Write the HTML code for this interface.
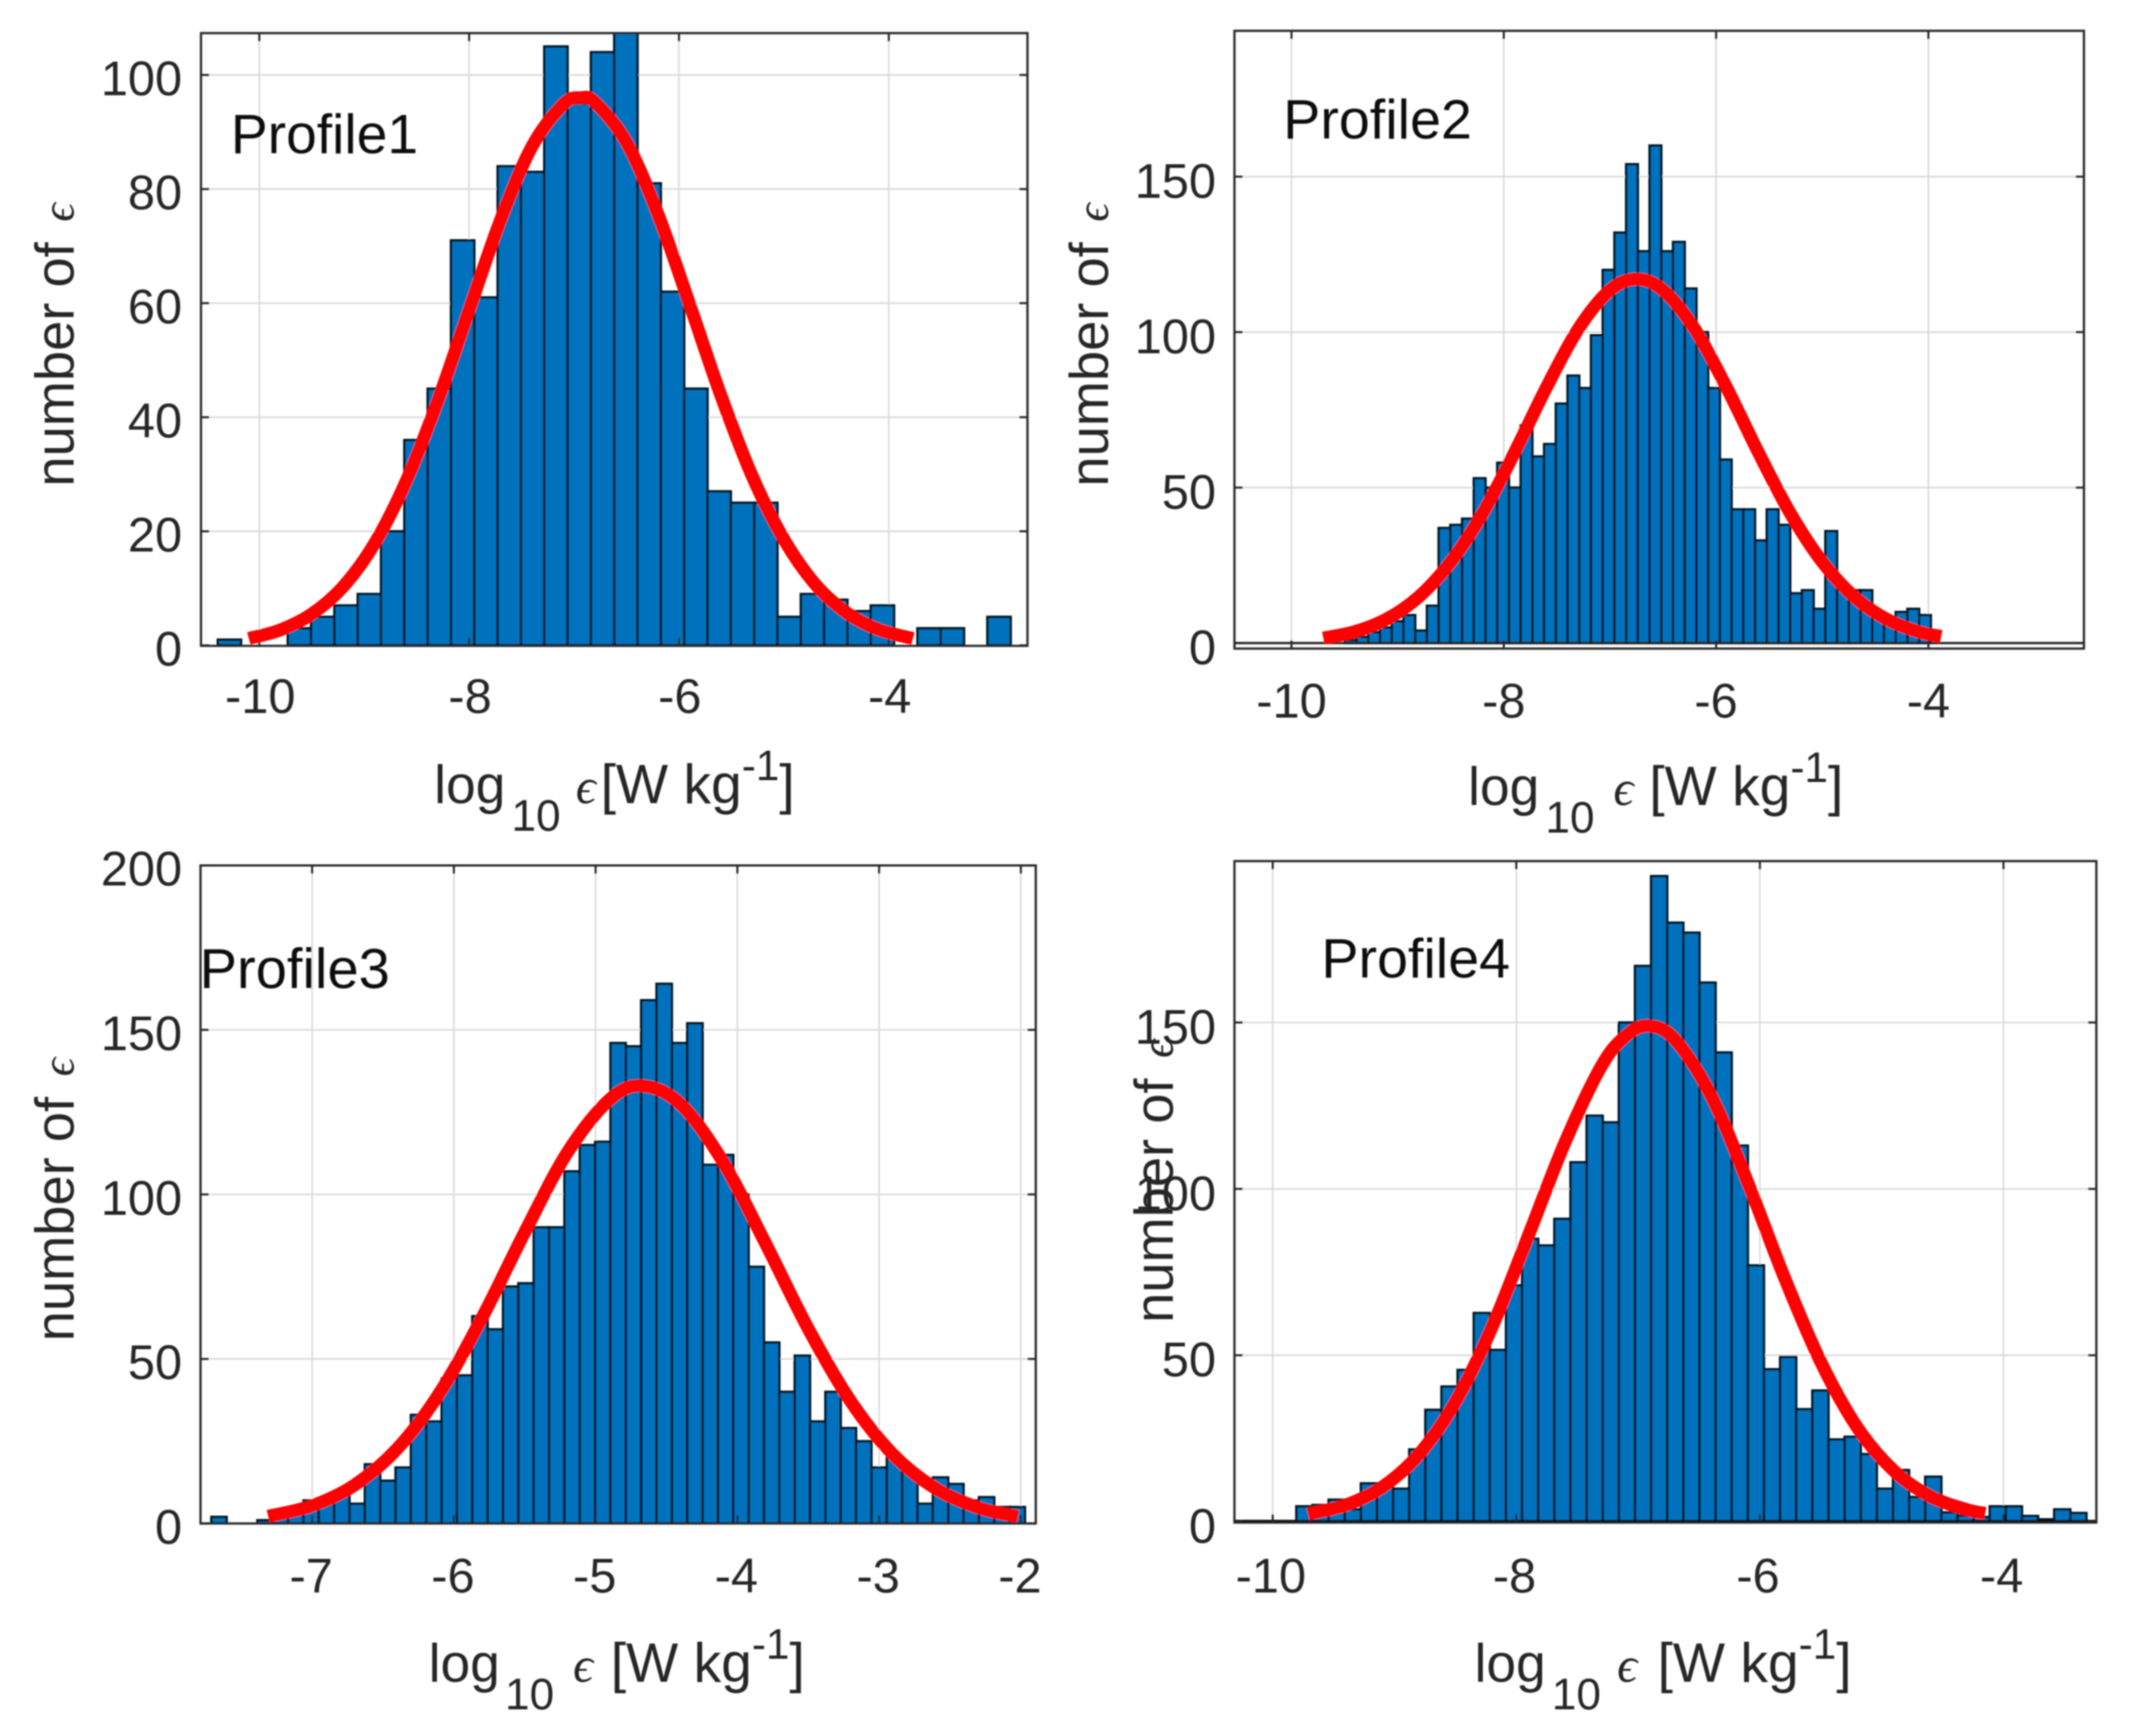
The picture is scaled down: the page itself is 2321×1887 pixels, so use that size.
<!DOCTYPE html>
<html lang="en">
<head>
<meta charset="utf-8">
<title>Histograms of log10 epsilon for four profiles</title>
<style>
html,body{margin:0;padding:0;background:#fff;}
svg{display:block;font-family:"Liberation Sans",Arial,sans-serif;}
.eps{font-family:"Liberation Serif","DejaVu Serif",serif;font-style:italic;}
</style>
</head>
<body>
<svg id="figure" xmlns="http://www.w3.org/2000/svg" width="2321" height="1887" viewBox="0 0 2321 1887">
  <defs>
    <filter id="soft" x="-2%" y="-2%" width="104%" height="104%"><feGaussianBlur stdDeviation="0.8"/></filter>
  </defs>
  <rect x="0" y="0" width="2321" height="1887" fill="#ffffff"/>
  <g id="plots" filter="url(#soft)"></g>
  <g id="titles" filter="url(#soft)" fill="#262626">
    <text x="251" y="166.5" font-size="60" fill="#111">Profile1</text>
    <text x="1395" y="150.5" font-size="60.5" fill="#111">Profile2</text>
    <text x="217" y="1074" font-size="61" fill="#111">Profile3</text>
    <text x="1436.5" y="1062.5" font-size="60.5" fill="#111">Profile4</text>

    <text transform="translate(80,529) rotate(-90)" font-size="59">number of <tspan class="eps" dx="6" font-size="50">ϵ</tspan></text>
    <text transform="translate(1204.5,529) rotate(-90)" font-size="59">number of <tspan class="eps" dx="6" font-size="50">ϵ</tspan></text>
    <text transform="translate(80,1458) rotate(-90)" font-size="59">number of <tspan class="eps" dx="6" font-size="50">ϵ</tspan></text>
    <text transform="translate(1275,1438) rotate(-90)" font-size="59">number of <tspan class="eps" dx="6" font-size="50">ϵ</tspan></text>

    <text font-size="58"><tspan x="472" y="873">log</tspan><tspan x="556" y="903" font-size="48">10</tspan><tspan class="eps" x="626" y="873" font-size="54">ϵ</tspan><tspan x="653" y="873" font-size="60">[W kg</tspan><tspan y="848" font-size="46">-1</tspan><tspan y="873" font-size="60">]</tspan></text>
    <text font-size="58"><tspan x="1596" y="875">log</tspan><tspan x="1680" y="905" font-size="48">10</tspan><tspan class="eps" x="1754" y="875" font-size="54">ϵ</tspan><tspan x="1793" y="875" font-size="60">[W kg</tspan><tspan y="850" font-size="46">-1</tspan><tspan y="875" font-size="60">]</tspan></text>
    <text font-size="58"><tspan x="466" y="1828">log</tspan><tspan x="549" y="1858" font-size="48">10</tspan><tspan class="eps" x="623" y="1828" font-size="54">ϵ</tspan><tspan x="664" y="1828" font-size="60">[W kg</tspan><tspan y="1803" font-size="46">-1</tspan><tspan y="1828" font-size="60">]</tspan></text>
    <text font-size="58"><tspan x="1603" y="1828">log</tspan><tspan x="1687" y="1858" font-size="48">10</tspan><tspan class="eps" x="1758" y="1828" font-size="54">ϵ</tspan><tspan x="1802" y="1828" font-size="60">[W kg</tspan><tspan y="1803" font-size="46">-1</tspan><tspan y="1828" font-size="60">]</tspan></text>
  </g>
</svg>
<script>
// ---- Profile 1 data ----
const p1Counts = [1,0,0,3,5,7,9,20,36,45,71,61,84,83,105,95,104,108,81,62,45,27,25,25,5,9,8,6,7,0,3,3,0,5];
const p1BinStart = -10.396;
const p1BinWidth = 0.2223;
const p1FitX = [-10.1,-9.8,-9.5,-9.2,-8.9,-8.6,-8.3,-8.0,-7.7,-7.4,-7.1,-6.94,-6.8,-6.5,-6.2,-5.9,-5.6,-5.3,-5.0,-4.7,-4.4,-4.1,-3.77];
const p1FitY = [1.2,2.7,5.5,10.3,17.9,28.8,42.8,58.8,74.6,87.5,94.9,96,95.2,88.2,75.6,59.9,43.8,29.6,18.6,10.7,5.7,2.8,1.2];
const p1XTicks = [-10,-8,-6,-4];
const p1YTicks = [0,20,40,60,80,100];

// ---- Profile 2 data ----
const p2Counts = [1,2,3.5,5,7,9,4,12,37,38,40,53,50,58,50,70,60,64,77,86,82,99,120,132,154,126,160,126,129,114,100,82,59,43,43,33,43,38,16,17,11,36,17,17,17,10,6,10,11,9];
const p2BinStart = -9.497;
const p2BinWidth = 0.1104;
const p2FitX = [-9.7,-9.4,-9.1,-8.8,-8.5,-8.2,-7.9,-7.6,-7.3,-7.0,-6.75,-6.5,-6.2,-5.9,-5.6,-5.3,-5.0,-4.7,-4.4,-4.1,-3.88];
const p2FitY = [1.6,3.7,7.8,14.9,26.1,41.7,61.2,82.1,100.9,113.5,117,113.5,100.9,82.1,61.2,41.7,26.1,14.9,7.8,3.7,2.1];
const p2XTicks = [-10,-8,-6,-4];
const p2YTicks = [0,50,100,150];

// ---- Profile 3 data ----
const p3Counts = [2,0,0,1,4,5,7,7,9,6,18,13,17,33,31,44,45,63,59,72,73,90,90,107,115,116,146,145,159,164,146,152,109,112,100,78,55,40,51,31,40,29,25,17,20,16,6,14,12,7,8,5,5];
const p3BinStart = -7.711;
const p3BinWidth = 0.1083;
const p3FitX = [-7.31,-7.0,-6.7,-6.4,-6.1,-5.8,-5.5,-5.2,-4.9,-4.67,-4.4,-4.1,-3.8,-3.5,-3.2,-2.9,-2.6,-2.3,-2.02];
const p3FitY = [2.2,5.4,11.7,22.7,39.7,62.6,88.5,112.7,128.9,133,127.4,109.8,85,59.2,37.1,20.9,10.6,4.8,2.1];
const p3XTicks = [-7,-6,-5,-4,-3,-2];
const p3YTicks = [0,50,100,150,200];

// ---- Profile 4 data ----
const p4Counts = [4.6,5,6.6,3.7,11.5,11.5,9.9,21.7,33.6,40.6,45.6,62.7,51.6,71,85,83,91,108,122,120,150,167,194,180,177,162,141,113,77,45.8,49.5,33.8,39.4,24.7,25.5,20.3,9.9,15.5,7.4,13.5,2.8,1.8,1.4,4.6,4.6,1.7,0.7,3.7,2.6];
const p4BinStart = -9.806;
const p4BinWidth = 0.1324;
const p4FitX = [-9.71,-9.4,-9.1,-8.8,-8.5,-8.2,-7.9,-7.6,-7.3,-7.1,-6.92,-6.7,-6.4,-6.1,-5.8,-5.5,-5.2,-4.9,-4.6,-4.3,-4.15];
const p4FitY = [2.3,5,10.4,20.2,36,58.4,86,114,137,146,149,145,128,102,73.5,48,28.3,15.3,7.6,3.6,2.5];
const p4XTicks = [-10,-8,-6,-4];
const p4YTicks = [0,50,100,150];

const SVGNS = 'http://www.w3.org/2000/svg';

function make(tag, attrs, parent) {
  const el = document.createElementNS(SVGNS, tag);
  for (const k in attrs) el.setAttribute(k, attrs[k]);
  parent.appendChild(el);
  return el;
}

function smoothPath(pts) {
  let d = 'M' + pts[0][0].toFixed(2) + ' ' + pts[0][1].toFixed(2);
  for (let i = 0; i < pts.length - 1; i++) {
    const p0 = pts[Math.max(i - 1, 0)], p1 = pts[i], p2 = pts[i + 1], p3 = pts[Math.min(i + 2, pts.length - 1)];
    const c1x = p1[0] + (p2[0] - p0[0]) / 6, c1y = p1[1] + (p2[1] - p0[1]) / 6;
    const c2x = p2[0] - (p3[0] - p1[0]) / 6, c2y = p2[1] - (p3[1] - p1[1]) / 6;
    d += 'C' + c1x.toFixed(2) + ' ' + c1y.toFixed(2) + ' ' + c2x.toFixed(2) + ' ' + c2y.toFixed(2) + ' ' + p2[0].toFixed(2) + ' ' + p2[1].toFixed(2);
  }
  return d;
}

function drawPanel(cfg) {
  const root = document.getElementById('plots');
  const g = make('g', {}, root);
  
  

  const sx = v => cfg.x0 + (v - cfg.xRef) * cfg.xScale;
  const sy = v => cfg.y0 - v * cfg.yScale;

  const clipId = cfg.name + '-clip';
  const clip = make('clipPath', { id: clipId }, g);
  make('rect', { x: cfg.left, y: cfg.top, width: cfg.right - cfg.left, height: cfg.bottom - cfg.top }, clip);

  // grid
  cfg.xTicks.forEach(t => {
    const line = make('line', { x1: sx(t), x2: sx(t), y1: cfg.top, y2: cfg.bottom, stroke: '#d9d9d9', 'stroke-width': 1.7 }, g);
    
    
  });
  cfg.yTicks.forEach(t => {
    const line = make('line', { x1: cfg.left, x2: cfg.right, y1: sy(t), y2: sy(t), stroke: '#d9d9d9', 'stroke-width': 1.7 }, g);
    
    
  });

  // bars
  const barGroup = make('g', { 'clip-path': 'url(#' + clipId + ')' }, g);
  
  
  cfg.counts.forEach((c, i) => {
    if (c <= 0) return;
    const x1 = sx(cfg.binStart + i * cfg.binWidth);
    const x2 = sx(cfg.binStart + (i + 1) * cfg.binWidth);
    const bar = make('rect', { x: x1, y: sy(c), width: x2 - x1, height: sy(0) - sy(c), fill: '#0072bd', stroke: '#041424', 'stroke-width': 2.6 }, barGroup);
    
    
  });

  // baseline for panels with separate zero line
  if (cfg.baseline) {
    const base = make('line', { x1: cfg.left, x2: cfg.right, y1: sy(0), y2: sy(0), stroke: cfg.baselineColor, 'stroke-width': cfg.baseline }, g);
    
    
  }

  // axes box + ticks
  const box = make('rect', { x: cfg.left, y: cfg.top, width: cfg.right - cfg.left, height: cfg.bottom - cfg.top, fill: 'none', stroke: '#262626', 'stroke-width': 2.4 }, g);
  
  
  const tickLen = 9;
  cfg.xTicks.forEach(t => {
    const a = make('line', { x1: sx(t), x2: sx(t), y1: cfg.bottom, y2: cfg.bottom - tickLen, stroke: '#262626', 'stroke-width': 2.2 }, g);
    
    
    const b = make('line', { x1: sx(t), x2: sx(t), y1: cfg.top, y2: cfg.top + tickLen, stroke: '#262626', 'stroke-width': 2.2 }, g);
    
    
    const label = make('text', { x: sx(t) + cfg.xLabelShift, y: cfg.xLabelY, 'text-anchor': 'middle', 'font-size': cfg.tickSize, fill: '#262626' }, g);
    
    
    label.textContent = String(t);
  });
  cfg.yTicks.forEach(t => {
    const a = make('line', { x1: cfg.left, x2: cfg.left + tickLen, y1: sy(t), y2: sy(t), stroke: '#262626', 'stroke-width': 2.2 }, g);
    
    
    const b = make('line', { x1: cfg.right, x2: cfg.right - tickLen, y1: sy(t), y2: sy(t), stroke: '#262626', 'stroke-width': 2.2 }, g);
    
    
    const label = make('text', { x: cfg.yLabelX, y: sy(t) + cfg.yLabelShift, 'text-anchor': 'end', 'font-size': cfg.tickSize, fill: '#262626' }, g);
    
    
    label.textContent = String(t);
  });

  // fitted curve
  const pts = cfg.fitX.map((v, i) => [sx(v), sy(cfg.fitY[i])]);
  const curve = make('path', { d: smoothPath(pts), fill: 'none', stroke: '#fe0000', 'stroke-width': 14, 'stroke-linejoin': 'round' }, g);
  
  
}

drawPanel({ name:'profile1', counts:p1Counts, binStart:p1BinStart, binWidth:p1BinWidth, fitX:p1FitX, fitY:p1FitY, xTicks:p1XTicks, yTicks:p1YTicks,
  left:218.5, right:1117, top:36, bottom:702, xRef:-10, x0:281.9, xScale:114.05, y0:701.5, yScale:6.2,
  tickSize:53, xLabelY:775, xLabelShift:1, yLabelX:198, yLabelShift:22 });

drawPanel({ name:'profile2', counts:p2Counts, binStart:p2BinStart, binWidth:p2BinWidth, fitX:p2FitX, fitY:p2FitY, xTicks:p2XTicks, yTicks:p2YTicks,
  left:1342, right:2265.5, top:33.5, bottom:705, xRef:-10, x0:1404, xScale:115.4, y0:699, yScale:3.38,
  tickSize:53, xLabelY:780, xLabelShift:0, yLabelX:1322, yLabelShift:23, baseline:2.4, baselineColor:'#262626' });

drawPanel({ name:'profile3', counts:p3Counts, binStart:p3BinStart, binWidth:p3BinWidth, fitX:p3FitX, fitY:p3FitY, xTicks:p3XTicks, yTicks:p3YTicks,
  left:218, right:1126, top:940.7, bottom:1656, xRef:-7, x0:339.3, xScale:154.1, y0:1656, yScale:3.577,
  tickSize:53, xLabelY:1731, xLabelShift:-1, yLabelX:198, yLabelShift:22 });

drawPanel({ name:'profile4', counts:p4Counts, binStart:p4BinStart, binWidth:p4BinWidth, fitX:p4FitX, fitY:p4FitY, xTicks:p4XTicks, yTicks:p4YTicks,
  left:1342, right:2279, top:936, bottom:1655, xRef:-10, x0:1383.6, xScale:132.4, y0:1654, yScale:3.617,
  tickSize:53, xLabelY:1731, xLabelShift:-2, yLabelX:1322, yLabelShift:23, baseline:4, baselineColor:'#111111' });
</script>
</body>
</html>
